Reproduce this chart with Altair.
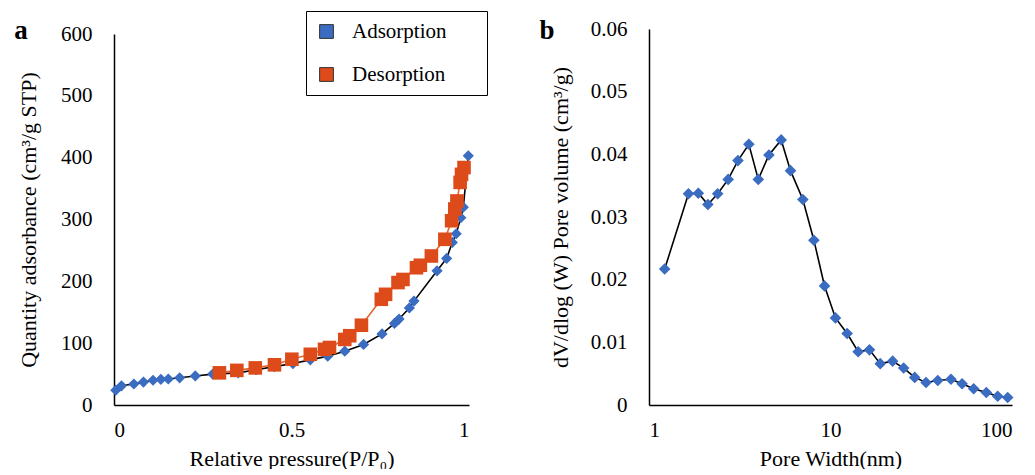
import altair as alt
import pandas as pd

# ---------------- data ----------------
ads_p = [0.005, 0.021, 0.056, 0.083, 0.11, 0.132, 0.153, 0.185, 0.229, 0.278,
         0.35, 0.40, 0.452, 0.504, 0.553, 0.602, 0.65, 0.703, 0.755, 0.79,
         0.803, 0.832, 0.845, 0.91, 0.937, 0.953, 0.964, 0.977, 0.984, 0.998]
ads_q = [24, 31, 34, 37, 40, 41.5, 42, 44, 47, 50,
         52, 57, 62, 67, 73, 79, 87, 98, 115, 132,
         139, 157, 168, 217, 237, 263, 277, 303, 320, 403]

des_p = [0.297, 0.346, 0.398, 0.452, 0.501, 0.553, 0.593, 0.607, 0.65, 0.664,
         0.697, 0.753, 0.765, 0.8, 0.814, 0.852, 0.863, 0.894, 0.932, 0.951,
         0.96, 0.966, 0.975, 0.979, 0.986]
des_q = [52, 56, 60, 65, 74, 82, 90, 93, 106, 112,
         129, 171, 179, 198, 203, 222, 226, 241, 268, 298,
         317, 330, 360, 373, 384]

pore_w = [1.22, 1.65, 1.87, 2.11, 2.39, 2.73, 3.09, 3.55, 4.0, 4.58, 5.35,
          6.02, 7.04, 8.10, 9.27, 10.65, 12.35, 14.2, 16.4, 18.8, 22.0,
          25.3, 29.1, 33.6, 39.0, 46.1, 53.1, 61.5, 72.2, 83.4, 94.7]
pore_v = [0.0217, 0.0337, 0.0338, 0.0320, 0.0337, 0.0360, 0.0390, 0.0416,
          0.0360, 0.0399, 0.0423, 0.0374, 0.0328, 0.0263, 0.0190, 0.0139,
          0.0114, 0.0085, 0.0088, 0.0066, 0.0070, 0.0059, 0.0044, 0.0036,
          0.0039, 0.0041, 0.0034, 0.0026, 0.0020, 0.0014, 0.0012]

series_names = ["Adsorption", "Desorption"]
a_y_ticks = [0, 100, 200, 300, 400, 500, 600]
a_x_ticks = [0, 0.5, 1]
b_x_ticks = [1, 10, 100]
b_y_ticks = [0, 0.01, 0.02, 0.03, 0.04, 0.05, 0.06]

FONT = "Liberation Serif"
BLUE = "#3A6CC1"
ORANGE = "#DD4B1A"
ORANGE_LINE = "#E8652C"
PAD = "\u2800" * 2  # blank glyphs that widen the legend box like the reference

ads = pd.DataFrame({"p": ads_p, "q": ads_q, "series": series_names[0]})
des = pd.DataFrame({"p": des_p, "q": des_q, "series": series_names[1]})
pore = pd.DataFrame({"w": pore_w, "v": pore_v})

# ---------------- panel a ----------------
x_a = alt.X("p:Q", scale=alt.Scale(domain=[0, 1], nice=False),
            axis=alt.Axis(values=a_x_ticks, labelExpr="format(datum.value, '~g')",
                          title="Relative pressure(P/P₀)", labelPadding=14,
                          titlePadding=8))
y_a = alt.Y("q:Q", scale=alt.Scale(domain=[0, 600], nice=False, range=[376, 5]),
            axis=alt.Axis(values=a_y_ticks, title="Quantity adsorbance (cm³/g STP)",
                          labelPadding=22, titlePadding=20))
color = alt.Color("series:N",
                  scale=alt.Scale(domain=series_names, range=[BLUE, ORANGE]),
                  legend=alt.Legend(title=None, orient="none", legendX=192, legendY=-18,
                                    strokeColor="black", fillColor="white",
                                    padding=10, symbolType="square", symbolSize=190,
                                    symbolStrokeColor="#333333", symbolStrokeWidth=1,
                                    labelFont=FONT, labelFontSize=21, labelColor="black",
                                    labelOffset=15, rowPadding=21, labelLimit=400,
                                    labelExpr="datum.label + '" + PAD + "'"))

ads_line = alt.Chart(ads).mark_line(color="black", strokeWidth=1.6).encode(x=x_a, y=y_a)
ads_pts = alt.Chart(ads).mark_point(shape="diamond", filled=True, size=125, opacity=1).encode(
    x=x_a, y=y_a, color=color)
des_line = alt.Chart(des).mark_line(color=ORANGE_LINE, strokeWidth=1.6).encode(x=x_a, y=y_a)
des_pts = alt.Chart(des).mark_point(shape="square", filled=True, size=185, opacity=1).encode(
    x=x_a, y=y_a, color=color)
label_a = alt.Chart(pd.DataFrame({"t": ["a"]})).mark_text(
    font=FONT, fontSize=27, fontWeight="bold", color="black", align="center", baseline="middle"
).encode(x=alt.value(-93), y=alt.value(2), text="t:N")

panel_a = alt.layer(ads_line, ads_pts, des_line, des_pts, label_a).properties(width=355, height=376)

# ---------------- panel b ----------------
x_b = alt.X("w:Q", scale=alt.Scale(type="log", domain=[1, 100], nice=False),
            axis=alt.Axis(values=b_x_ticks, format="d", title="Pore Width(nm)",
                          labelPadding=14, titlePadding=8))
y_b = alt.Y("v:Q", scale=alt.Scale(domain=[0, 0.06], nice=False),
            axis=alt.Axis(values=b_y_ticks,
                          labelExpr="datum.value == 0 ? '0' : format(datum.value, '.2f')",
                          title="dV/dlog (W) Pore volume (cm³/g)",
                          labelPadding=22, titlePadding=18))
b_line = alt.Chart(pore).mark_line(color="black", strokeWidth=1.6).encode(x=x_b, y=y_b)
b_pts = alt.Chart(pore).mark_point(shape="diamond", filled=True, size=135, opacity=1,
                                   color=BLUE).encode(x=x_b, y=y_b)
label_b = alt.Chart(pd.DataFrame({"t": ["b"]})).mark_text(
    font=FONT, fontSize=27, fontWeight="bold", color="black", align="center", baseline="middle"
).encode(x=alt.value(-102), y=alt.value(2), text="t:N")

panel_b = alt.layer(b_line, b_pts, label_b).properties(width=363, height=376)

chart = alt.hconcat(panel_a, panel_b, spacing=65).properties(
    padding={"left": 6, "top": 2, "right": 0, "bottom": 0}
).configure_axis(
    domainColor="black", domainWidth=1.5, ticks=False, grid=False,
    labelFont=FONT, labelFontSize=21, labelColor="black",
    titleFont=FONT, titleFontSize=22, titleFontWeight="normal", titleColor="black"
).configure_view(stroke=None)

chart.save("out.html", embed_options={"renderer": "svg", "actions": False})
